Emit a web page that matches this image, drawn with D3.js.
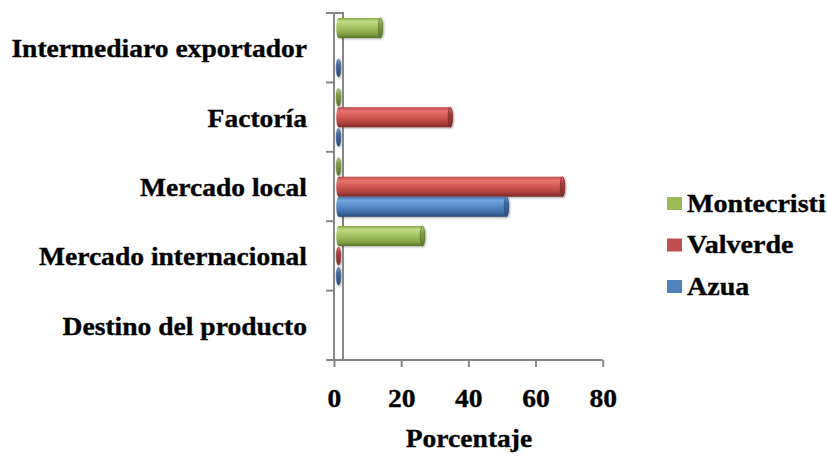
<!DOCTYPE html>
<html>
<head>
<meta charset="utf-8">
<script src="https://cdn.jsdelivr.net/npm/d3@7"></script>
<style>
  html, body { margin: 0; padding: 0; background: #ffffff; }
  svg { display: block; }
  text { font-family: "Liberation Serif", "Times New Roman", serif; font-weight: bold; fill: #000; stroke: #000; stroke-width: 0.35px; }
</style>
</head>
<body>
<svg id="chart" width="827" height="457"></svg>
<script>
// Destination of the product, percentage per province
const categories = ["Intermediaro exportador", "Factoría", "Mercado local", "Mercado internacional", "Destino del producto"];
const seriesNames = ["Montecristi", "Valverde", "Azua"];
const montecristi = [12.5, 0, 0, 25, null];
const valverde = [null, 33.3, 66.7, 0, null];
const azua = [0, 0, 50, 0, null];
const xTicks = [0, 20, 40, 60, 80];
const axisTitle = "Porcentaje";

const seriesValues = [montecristi, valverde, azua];
const palette = {
  Montecristi: { base: "#9bbb59", stops: ["#8aac4c", "#c0dc84", "#a6c664", "#84a243", "#5a742c"], edge: "#5d772e" },
  Valverde:    { base: "#c0504d", stops: ["#b84845", "#e8736f", "#d65b57", "#ab3f3c", "#7a2b29"], edge: "#7d2d2b" },
  Azua:        { base: "#4f81bd", stops: ["#4470a8", "#74a6e1", "#5b8dcd", "#3e6ba5", "#294a77"], edge: "#2c4d7a" }
};

const fontStack = "'Liberation Serif', 'Times New Roman', serif";
const svg = d3.select("#chart");
const defs = svg.append("defs");
seriesNames.forEach((s, i) => {
  const g = defs.append("linearGradient").attr("id", "grad" + i)
    .attr("x1", 0).attr("y1", 0).attr("x2", 0).attr("y2", 1);
  [0, 0.18, 0.45, 0.8, 1].forEach((o, k) => {
    g.append("stop").attr("offset", o).attr("stop-color", palette[s].stops[k]);
  });
  const c = defs.append("linearGradient").attr("id", "cap" + i)
    .attr("x1", 0).attr("y1", 0).attr("x2", 0).attr("y2", 1);
  [0, 0.3, 1].forEach((o, k) => {
    c.append("stop").attr("offset", o)
      .attr("stop-color", [palette[s].stops[1], palette[s].stops[3], palette[s].stops[4]][k]);
  });
});
const shadow = defs.append("filter").attr("id", "soft").attr("x", "-10%").attr("y", "-30%").attr("width", "120%").attr("height", "160%");
shadow.append("feGaussianBlur").attr("in", "SourceAlpha").attr("stdDeviation", 1.2).attr("result", "b");
shadow.append("feOffset").attr("in", "b").attr("dx", 0.5).attr("dy", 1).attr("result", "o");
shadow.append("feComponentTransfer").attr("in", "o").attr("result", "s")
  .append("feFuncA").attr("type", "linear").attr("slope", 0.35);
const merge = shadow.append("feMerge");
merge.append("feMergeNode").attr("in", "s");
merge.append("feMergeNode").attr("in", "SourceGraphic");

// Plot frame
const plotTop = 13, plotBottom = 360, plotLeft = 334, plotRight = 602.7, depth = 9;
const x = d3.scaleLinear().domain([0, 80]).range([plotLeft, plotRight]);
const xBar = v => x(v) + depth / 2;
const y = d3.scaleBand().domain(categories).range([plotTop, plotBottom]).padding(0);
const ySeries = d3.scaleBand().domain(seriesNames).range([4.9, y.bandwidth() - 4.5]).padding(0);

const axisColor = "#878787";
const textStretch = 1.06;

// Back wall edge and top
svg.append("line").attr("x1", plotLeft + depth).attr("x2", plotLeft + depth).attr("y1", plotTop).attr("y2", plotBottom)
  .attr("stroke", axisColor).attr("stroke-width", 2);
svg.append("line").attr("x1", plotLeft - 8).attr("x2", plotLeft + depth + 1).attr("y1", plotTop).attr("y2", plotTop)
  .attr("stroke", axisColor).attr("stroke-width", 2);

// Category axis (ticks between categories)
const yAxis = svg.append("g").attr("font-family", fontStack);
yAxis.append("line").attr("x1", plotLeft).attr("x2", plotLeft).attr("y1", plotTop).attr("y2", plotBottom)
  .attr("stroke", axisColor).attr("stroke-width", 2);
const boundaries = categories.map(c => y(c)).concat([y(categories[categories.length - 1]) + y.bandwidth()]);
yAxis.selectAll("line.tick").data(boundaries).join("line").attr("class", "tick")
  .attr("x1", plotLeft - 8).attr("x2", plotLeft).attr("y1", d => d).attr("y2", d => d)
  .attr("stroke", axisColor).attr("stroke-width", 2);
yAxis.selectAll("text").data(categories).join("text")
  .attr("text-anchor", "end").attr("font-size", 26)
  .attr("transform", d => `translate(307,${y(d) + y.bandwidth() / 2 + 9.5}) scale(${textStretch},1)`)
  .text(d => d);

// Value axis
const xAxis = svg.append("g").attr("transform", `translate(0,${plotBottom})`)
  .call(d3.axisBottom(x).tickValues(xTicks).tickSize(7).tickSizeOuter(0).tickFormat(d3.format("d")))
  .attr("font-family", fontStack).attr("font-size", 26);
xAxis.select(".domain").attr("d", `M${plotLeft - 8},0H${plotRight}`).attr("stroke", axisColor).attr("stroke-width", 2);
xAxis.selectAll(".tick line").attr("stroke", axisColor).attr("stroke-width", 2);
xAxis.selectAll(".tick text")
  .attr("y", null).attr("dy", null)
  .attr("transform", `translate(0,46.7) scale(${textStretch},1)`)
  .attr("fill", "#000");
svg.append("text").attr("text-anchor", "middle").attr("font-size", 26).attr("font-family", fontStack)
  .attr("transform", `translate(469,446.7) scale(${textStretch},1)`).text(axisTitle);

// Cylinder bars
const barsG = svg.append("g");
seriesNames.forEach((s, si) => {
  const vals = seriesValues[si];
  categories.forEach((c, ci) => {
    const v = vals[ci];
    if (v === null || v === undefined) return;
    const y0 = y(c) + ySeries(s);
    const h = ySeries.bandwidth();
    const ry = h / 2;
    const x0 = xBar(0);
    const x1 = xBar(v);
    const g = barsG.append("g").attr("filter", "url(#soft)");
    if (v === 0) {
      g.append("ellipse").attr("cx", x0).attr("cy", y0 + ry).attr("rx", 2.3).attr("ry", ry - 1)
        .attr("fill", `url(#cap${si})`).attr("stroke", palette[s].edge).attr("stroke-width", 0.5);
      return;
    }
    const rx = 2.2;
    const path = `M${x0},${y0} L${x1},${y0} A${rx},${ry} 0 0 1 ${x1},${y0 + h} L${x0},${y0 + h} A${rx},${ry} 0 0 1 ${x0},${y0} Z`;
    g.append("path").attr("d", path).attr("fill", `url(#grad${si})`);
    g.append("ellipse").attr("cx", x1).attr("cy", y0 + ry).attr("rx", rx).attr("ry", ry)
      .attr("fill", `url(#cap${si})`).attr("stroke", palette[s].edge).attr("stroke-width", 0.8);
  });
});

// Legend
const legend = svg.append("g").attr("font-family", fontStack);
const legendY = [197, 238.5, 280];
seriesNames.forEach((s, i) => {
  legend.append("rect").attr("x", 667).attr("y", legendY[i]).attr("width", 15).attr("height", 13)
    .attr("fill", palette[s].base);
  legend.append("text").attr("font-size", 26)
    .attr("transform", `translate(687,${legendY[i] + 14.7}) scale(1.08,1)`).text(s);
});
</script>
</body>
</html>
